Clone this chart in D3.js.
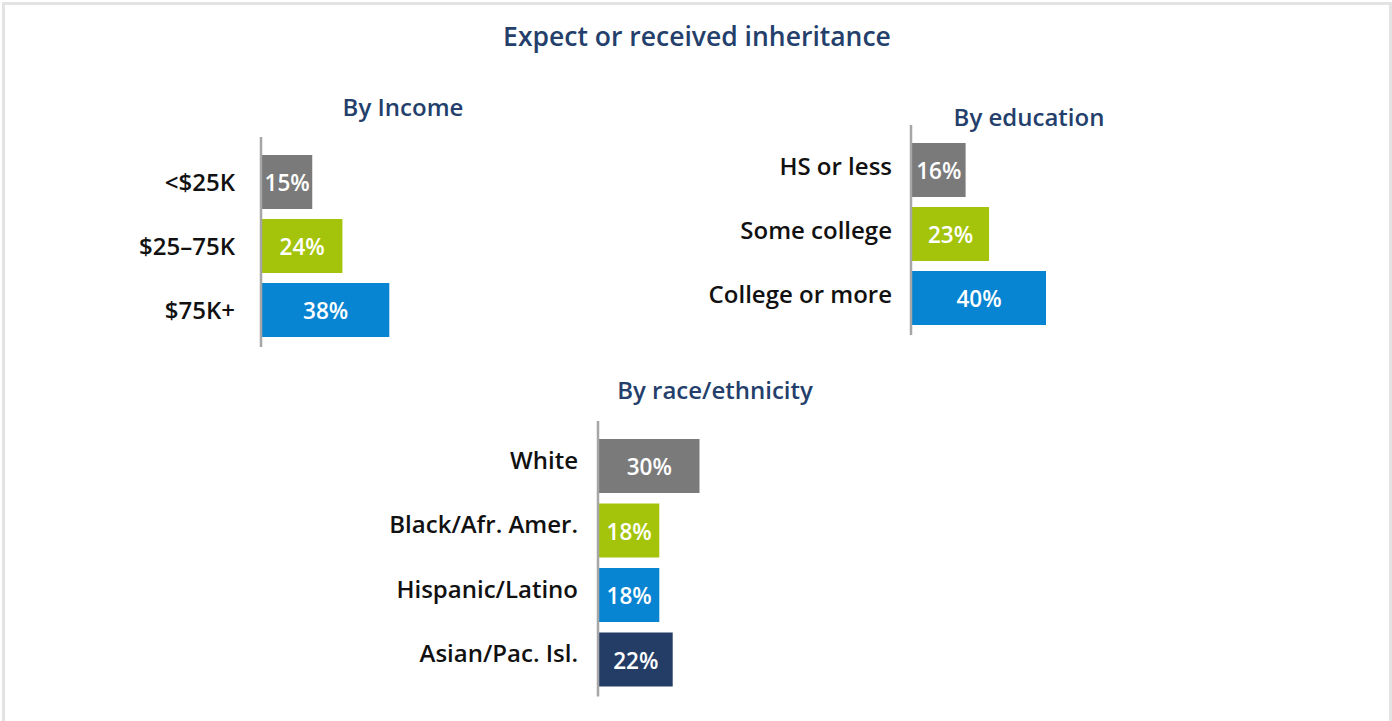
<!DOCTYPE html>
<html>
<head>
<meta charset="utf-8">
<script src="https://cdn.jsdelivr.net/npm/d3@7"></script>
<style>
  body { margin: 0; background: #fff; font-family: "Open Sans", "Noto Sans", sans-serif; }
  .title { fill: #243f6b; font-weight: 600; }
  .cat { fill: #111; font-weight: 600; font-size: 24px; }
  .val { fill: #fff; font-weight: 600; font-size: 22.5px; }
</style>
</head>
<body>
<div id="chart"></div>
<script>
(function() {

var width = 1392, height = 721;

// data
var incomeCats = ["<$25K", "$25\u201375K", "$75K+"];
var incomeVals = [15, 24, 38];
var eduCats = ["HS or less", "Some college", "College or more"];
var eduVals = [16, 23, 40];
var raceCats = ["White", "Black/Afr. Amer.", "Hispanic/Latino", "Asian/Pac. Isl."];
var raceVals = [30, 18, 18, 22];

var barColors = ["#7a7a7a", "#a3c40a", "#0784d2", "#233d66"];
var barH = 54;

var svg = d3.select("#chart").append("svg")
    .attr("width", width)
    .attr("height", height);

// outer frame
svg.append("rect")
  .attr("x", 3.5).attr("y", 3.5)
  .attr("width", 1387).attr("height", 730)
  .attr("fill", "none")
  .attr("stroke", "#e3e3e3")
  .attr("stroke-width", 3);

svg.append("text")
  .attr("class", "title")
  .attr("x", 697).attr("y", 46)
  .attr("text-anchor", "middle")
  .style("font-size", "26.5px")
  .text("Expect or received inheritance");

// same px-per-percent for every panel
var x = d3.scaleLinear().domain([0, 100]).range([0, 335]);

function panel(opts) {
  var g = svg.append("g")
    .attr("transform", "translate(" + opts.left + "," + opts.top + ")");

  var n = opts.cats.length;
  var y = d3.scaleBand()
    .domain(opts.cats)
    .range([0, (n - 1) * opts.step + barH])
    .paddingInner((opts.step - barH) / opts.step)
    .paddingOuter(0);

  var rows = opts.cats.map(function(c, i) { return {cat: c, val: opts.vals[i], i: i}; });

  g.append("text")
    .attr("class", "title")
    .attr("x", opts.titleX - opts.left)
    .attr("y", opts.titleY - opts.top)
    .attr("text-anchor", "middle")
    .style("font-size", "24px")
    .text(opts.title);

  g.selectAll(".bar")
      .data(rows)
    .enter().append("rect")
      .attr("class", "bar")
      .attr("x", 1)
      .attr("y", function(d) { return y(d.cat); })
      .attr("width", function(d) { return x(d.val); })
      .attr("height", y.bandwidth())
      .style("fill", function(d) { return barColors[d.i]; });

  g.selectAll(".val")
      .data(rows)
    .enter().append("text")
      .attr("class", "val")
      .attr("x", function(d) { return 1 + x(d.val) / 2; })
      .attr("y", function(d) { return y(d.cat) + y.bandwidth() / 2 + 1; })
      .attr("dy", "0.36em")
      .attr("text-anchor", "middle")
      .text(function(d) { return d.val + "%"; });

  g.selectAll(".cat")
      .data(rows)
    .enter().append("text")
      .attr("class", "cat")
      .attr("x", -opts.gap)
      .attr("y", function(d) { return y(d.cat) + y.bandwidth() / 2 + opts.labelDy; })
      .attr("dy", "0.36em")
      .attr("text-anchor", "end")
      .text(function(d) { return d.cat; });

  // axis line
  g.append("line")
    .attr("x1", 0).attr("x2", 0)
    .attr("y1", -18)
    .attr("y2", y.range()[1] + 10)
    .style("stroke", "#a6a6a6")
    .style("stroke-width", 2.5);
}

panel({cats: incomeCats, vals: incomeVals, left: 261, top: 155, step: 64,
       gap: 26, labelDy: 0,
       title: "By Income", titleX: 403, titleY: 116});
panel({cats: eduCats, vals: eduVals, left: 911, top: 143, step: 64,
       gap: 19, labelDy: -4,
       title: "By education", titleX: 1029, titleY: 126});
panel({cats: raceCats, vals: raceVals, left: 598, top: 439, step: 64.5,
       gap: 20, labelDy: -6,
       title: "By race/ethnicity", titleX: 715, titleY: 399});

})();
</script>
</body>
</html>
